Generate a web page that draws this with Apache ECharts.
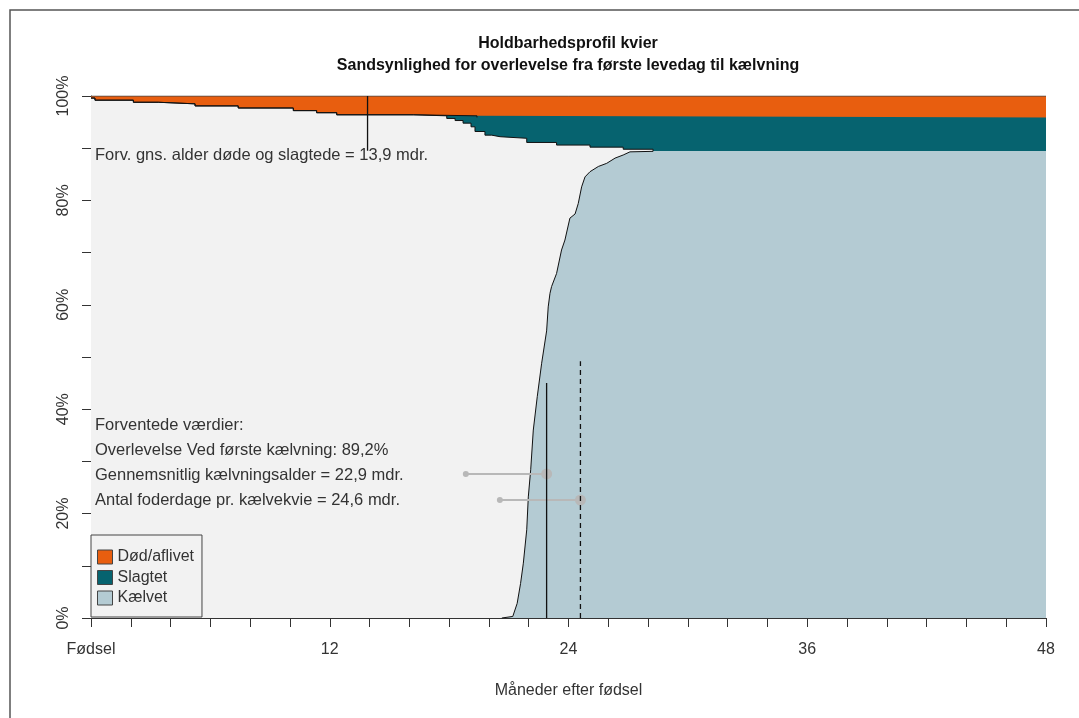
<!DOCTYPE html>
<html><head><meta charset="utf-8">
<script src="https://cdn.jsdelivr.net/npm/echarts@6/dist/echarts.min.js"></script>
<style>html,body{margin:0;padding:0;background:#fff}#c{width:1079px;height:718px}</style>
</head><body><div id="c"></div>
<script>
// ---------- data ----------
const titleLines = ['Holdbarhedsprofil kvier', 'Sandsynlighed for overlevelse fra første levedag til kælvning'];
const seriesNames = ['Død/aflivet', 'Slagtet', 'Kælvet'];
const xAxisName = 'Måneder efter fødsel';
const xTickLabels = {0: 'Fødsel', 12: '12', 24: '24', 36: '36', 48: '48'};
const yTickLabels = {0: '0%', 20: '20%', 40: '40%', 60: '60%', 80: '80%', 100: '100%'};

// % not dead (top of teal band)
const deathMonths = [0, 0.2, 2.13, 3.38, 5.23, 7.40, 10.17, 11.34, 12.35, 16.2, 19.4];
const deathAlivePct = [99.6, 99.2, 98.8, 98.5, 98.1, 97.7, 97.2, 96.8, 96.4, 96.2, 95.9];

// % not dead and not slaughtered (bottom of teal band)
const survMonths = [0, 0.2, 2.13, 3.38, 5.23, 7.40, 10.17, 11.34, 12.35, 16.2, 17.88, 18.3, 18.7, 19.1, 19.3, 19.8, 20.14, 20.56, 21.9, 23.4, 25.08, 26.75, 28.25];
const survPct = [99.6, 99.2, 98.8, 98.5, 98.1, 97.7, 97.2, 96.8, 96.4, 96.2, 95.7, 95.3, 94.8, 94.1, 93.2, 92.5, 92.2, 91.9, 91.1, 90.6, 90.2, 89.8, 89.4];

// cumulative % calved
const calvMonths = [0, 20.65, 20.7, 21.2, 21.42, 21.59, 21.73, 21.9, 21.98, 22.1, 22.23, 22.43, 22.65, 22.9, 22.98, 23.07, 23.15, 23.4, 23.65, 23.82, 24.07, 24.33, 24.49, 24.66, 24.83, 25.08, 25.5, 25.92, 26.34, 26.75, 27.09, 28.25];
const calvPct = [0, 0, 0.25, 0.3, 2.8, 6.6, 10.5, 16.9, 23.2, 28.4, 36.0, 42.4, 48.8, 55.0, 59.6, 62.2, 63.5, 66.0, 70.5, 72.4, 76.6, 77.4, 79.4, 82.6, 84.5, 85.5, 86.5, 87.1, 88.1, 88.7, 89.3, 89.4];

// reference lines
const deathMeanAge = 13.9, deathMeanRange = [89.5, 100];
const calvMeanAge = 22.9, calvMeanRange = [0, 45.0];
const feedAge = 24.6, feedRange = [0, 49.2];
// gray whiskers (from, to, level)
const calvWhisker = [18.84, 22.9, 27.6];
const feedWhisker = [20.55, 24.6, 22.6];

const noteDeath = 'Forv. gns. alder døde og slagtede = 13,9 mdr.';
const noteLines = ['Forventede værdier:', 'Overlevelse Ved første kælvning: 89,2%', 'Gennemsnitlig kælvningsalder = 22,9 mdr.', 'Antal foderdage pr. kælvekvie = 24,6 mdr.'];

// ---------- chart ----------
const C_ORANGE = '#E85E0F', C_TEAL = '#06636F', C_BLUE = '#B4CBD3', C_GRAY = '#F2F2F2';
const FONT = '"Liberation Sans", Arial, sans-serif';
const XMAX = 48;

const pairs = (xs, ys) => xs.map((x, i) => [x, ys[i]]);
const toEnd = (arr) => arr.concat([[XMAX, arr[arr.length - 1][1]]]);

const deathData = pairs(deathMonths, deathAlivePct);
const survData = pairs(survMonths, survPct);
const calvData = pairs(calvMonths, calvPct);

function area(name, data, color, step) {
  return {
    name, type: 'line', data, step: step || false, showSymbol: false, symbol: 'none',
    itemStyle: {color}, lineStyle: {width: 0, color}, areaStyle: {color, opacity: 1, origin: 'start'},
    silent: true, z: 2
  };
}
function edge(data, step, color, width, type, z) {
  return {
    type: 'line', data, step: step || false, showSymbol: false, symbol: 'none',
    lineStyle: {color: color || '#111', width: width || 1, type: type || 'solid'}, silent: true, z: z || 3
  };
}
function whisker(w) {
  return {
    type: 'line', data: [[w[0], w[2]], [w[1], w[2]]], showSymbol: true, symbol: 'circle',
    symbolSize: (v, p) => p.dataIndex === 0 ? 6 : 11,
    itemStyle: {color: '#B8B8B8'}, lineStyle: {color: '#B8B8B8', width: 2}, silent: true, z: 4
  };
}

const chart = echarts.init(document.getElementById('c'), null, {renderer: 'canvas'});
const option = {
  animation: false,
  backgroundColor: '#fff',
  textStyle: {fontFamily: FONT},
  grid: {left: 91, right: 33, top: 96, bottom: 100},
  xAxis: {
    type: 'value', min: 0, max: XMAX, interval: 2,
    name: xAxisName, nameLocation: 'middle', nameGap: 65,
    nameTextStyle: {fontSize: 16, color: '#333', fontFamily: FONT},
    axisLine: {show: true, lineStyle: {color: '#333', width: 1}},
    axisTick: {show: true, length: 9, lineStyle: {color: '#333'}},
    axisLabel: {margin: 24, fontSize: 16, color: '#333', fontFamily: FONT,
      formatter: v => xTickLabels[v] !== undefined ? xTickLabels[v] : ''},
    splitLine: {show: false}
  },
  yAxis: {
    type: 'value', min: 0, max: 100, interval: 10,
    axisLine: {show: true, lineStyle: {color: '#333', width: 1}},
    axisTick: {show: true, length: 9, lineStyle: {color: '#333'}},
    axisLabel: {margin: 19, rotate: 90, fontSize: 16, color: '#333', fontFamily: FONT,
      formatter: v => yTickLabels[v] !== undefined ? yTickLabels[v] : ''},
    splitLine: {show: false}
  },
  legend: {
    data: seriesNames, orient: 'vertical', left: 91, top: 535,
    padding: [14, 8, 11, 6], itemGap: 4.5, itemWidth: 15, itemHeight: 14,
    icon: 'rect', backgroundColor: C_GRAY, borderColor: '#444', borderWidth: 1,
    itemStyle: {borderColor: '#444', borderWidth: 1},
    textStyle: {fontSize: 16, color: '#333', fontFamily: FONT, lineHeight: 16},
    selectedMode: false
  },
  series: [
    area(seriesNames[0], [[0, 100], [XMAX, 100]], C_ORANGE),
    area(seriesNames[1], toEnd(deathData), C_TEAL, 'end'),
    area('Levende', toEnd(survData), C_GRAY, 'end'),
    area(seriesNames[2], toEnd(calvData), C_BLUE),
    edge([[0, 100], [XMAX, 100]], false, '#444', 1),
    edge(deathData, 'end'),
    edge(survData, 'end'),
    edge(calvData.filter(p => p[0] >= 20.6), false),
    whisker(calvWhisker),
    whisker(feedWhisker),
    edge([[deathMeanAge, deathMeanRange[0]], [deathMeanAge, deathMeanRange[1]]], false, '#111', 1.3, 'solid', 5),
    edge([[calvMeanAge, calvMeanRange[0]], [calvMeanAge, calvMeanRange[1]]], false, '#111', 1.3, 'solid', 5),
    edge([[feedAge, feedRange[0]], [feedAge, feedRange[1]]], false, '#111', 1.3, [5, 4], 5)
  ],
  graphic: [
    {type: 'rect', shape: {x: 10, y: 10, width: 1100, height: 760}, style: {fill: 'none', stroke: '#555', lineWidth: 1.5}, silent: true},
    {type: 'text', x: 568, y: 44, style: {text: titleLines[0], font: 'bold 16px ' + FONT, fill: '#111', align: 'center', verticalAlign: 'middle'}},
    {type: 'text', x: 568, y: 66, style: {text: titleLines[1], font: 'bold 16px ' + FONT, fill: '#111', align: 'center', verticalAlign: 'middle'}},
    {type: 'text', x: 95, y: 155, z: 10, style: {text: noteDeath, font: '16.5px ' + FONT, fill: '#333', verticalAlign: 'middle'}},
    ...noteLines.map((t, i) => ({type: 'text', x: 95, y: 425 + i * 25, z: 10, style: {text: t, font: '16.5px ' + FONT, fill: '#333', verticalAlign: 'middle'}}))
  ]
};
chart.setOption(option);
</script>
</body></html>
